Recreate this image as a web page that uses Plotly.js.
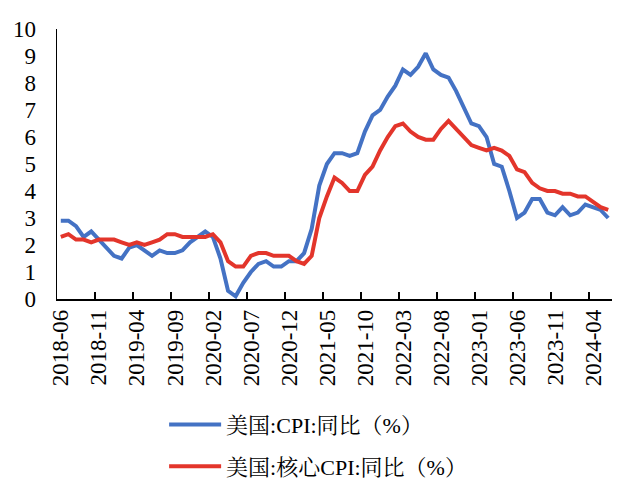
<!DOCTYPE html>
<html>
<head>
<meta charset="utf-8">
<script src="https://cdn.plot.ly/plotly-3.0.1.min.js"></script>
<style>html,body{margin:0;padding:0;background:#fff;}#chart{width:631px;height:499px;}</style>
</head>
<body>
<div id="chart"></div>
<script>
const months = [
"2018-06","2018-07","2018-08","2018-09","2018-10","2018-11","2018-12",
"2019-01","2019-02","2019-03","2019-04","2019-05","2019-06","2019-07","2019-08","2019-09","2019-10","2019-11","2019-12",
"2020-01","2020-02","2020-03","2020-04","2020-05","2020-06","2020-07","2020-08","2020-09","2020-10","2020-11","2020-12",
"2021-01","2021-02","2021-03","2021-04","2021-05","2021-06","2021-07","2021-08","2021-09","2021-10","2021-11","2021-12",
"2022-01","2022-02","2022-03","2022-04","2022-05","2022-06","2022-07","2022-08","2022-09","2022-10","2022-11","2022-12",
"2023-01","2023-02","2023-03","2023-04","2023-05","2023-06","2023-07","2023-08","2023-09","2023-10","2023-11","2023-12",
"2024-01","2024-02","2024-03","2024-04","2024-05","2024-06"];
const cpi = [
2.9,2.9,2.7,2.3,2.5,2.2,1.9,
1.6,1.5,1.9,2.0,1.8,1.6,1.8,1.7,1.7,1.8,2.1,2.3,
2.5,2.3,1.5,0.3,0.1,0.6,1.0,1.3,1.4,1.2,1.2,1.4,
1.4,1.7,2.6,4.2,5.0,5.4,5.4,5.3,5.4,6.2,6.8,7.0,
7.5,7.9,8.5,8.3,8.6,9.1,8.5,8.3,8.2,7.7,7.1,6.5,
6.4,6.0,5.0,4.9,4.0,3.0,3.2,3.7,3.7,3.2,3.1,3.4,
3.1,3.2,3.5,3.4,3.3,3.0];
const coreCpi = [
2.3,2.4,2.2,2.2,2.1,2.2,2.2,
2.2,2.1,2.0,2.1,2.0,2.1,2.2,2.4,2.4,2.3,2.3,2.3,
2.3,2.4,2.1,1.4,1.2,1.2,1.6,1.7,1.7,1.6,1.6,1.6,
1.4,1.3,1.6,3.0,3.8,4.5,4.3,4.0,4.0,4.6,4.9,5.5,
6.0,6.4,6.5,6.2,6.0,5.9,5.9,6.3,6.6,6.3,6.0,5.7,
5.6,5.5,5.6,5.5,5.3,4.8,4.7,4.3,4.1,4.0,4.0,3.9,
3.9,3.8,3.8,3.6,3.4,3.3];
const seriesNames = ["美国:CPI:同比（%）","美国:核心CPI:同比（%）"];
const yTicks = [0,1,2,3,4,5,6,7,8,9,10];

const idx = months.map((m,i)=>i);
const labelIdx = idx.filter(i=>i%5===0);
const tickBounds = labelIdx.map(i=>i-0.5);
const tickText = labelIdx.map(i=>months[i]);

const fontFam = '"Liberation Serif","Noto Serif CJK SC","Noto Sans CJK SC",serif';
const traces = [
  {x: idx, y: cpi, name: seriesNames[0], legendgroup:'a', type:'scatter', mode:'lines', line:{color:'#4472c4', width:4}},
  {x: idx, y: coreCpi, name: seriesNames[1], legendgroup:'b', type:'scatter', mode:'lines', line:{color:'#e3352b', width:4}}
];
const layout = {
  width:631, height:499,
  margin:{l:57, r:19, t:29, b:199},
  paper_bgcolor:'#fff', plot_bgcolor:'#fff',
  font:{family:fontFam, size:22, color:'#000'},
  showlegend:true,
  legend:{x:0.193, xanchor:'left', y:-0.383, yanchor:'top', orientation:'v', traceorder:'grouped',
    font:{family:fontFam, size:22, color:'#000'}, tracegroupgap:10, itemwidth:52},
  xaxis:{
    range:[-0.5, 72.5], showgrid:false, zeroline:false,
    showline:true, linecolor:'#000', linewidth:1.5,
    tickmode:'array', tickvals:tickBounds, ticktext:tickText,
    ticks:'inside', ticklen:7, tickcolor:'#000', tickwidth:1.5,
    tickangle:-90, ticklabelshift:4, tickfont:{family:fontFam, size:23, color:'#000'}
  },
  yaxis:{
    range:[0,10], showgrid:false, zeroline:false,
    showline:true, linecolor:'#000', linewidth:1.5,
    tickmode:'array', tickvals:yTicks, ticks:'', ticklabelstandoff:15,
    tickfont:{family:fontFam, size:23, color:'#000'}
  }
};
Plotly.newPlot('chart', traces, layout, {staticPlot:true, displayModeBar:false});
</script>
</body>
</html>
